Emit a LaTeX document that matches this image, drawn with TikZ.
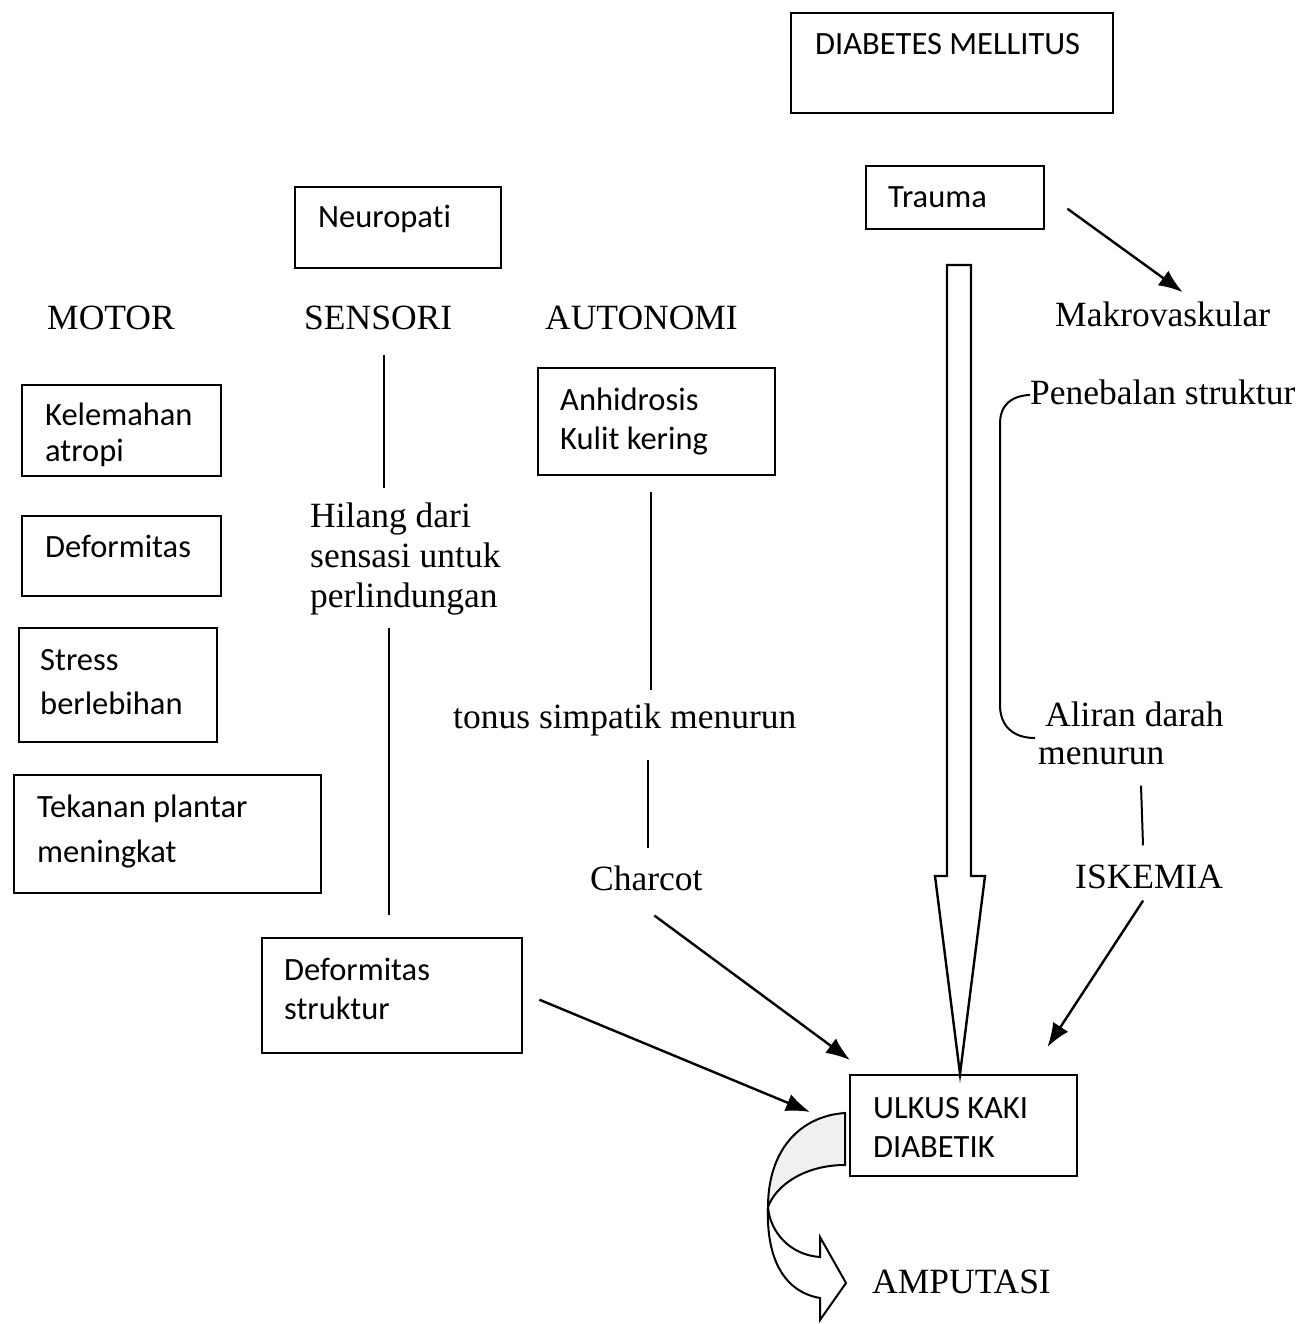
\documentclass[tikz,border=0pt]{standalone}
\usepackage{fontspec}
\setmainfont{Liberation Serif}
\newfontfamily\boxfont[Ligatures=NoCommon]{Carlito}
\usetikzlibrary{arrows.meta,calc}
\begin{document}
\begin{tikzpicture}[x=1pt,y=-1pt,
  box/.style={draw, line width=2.4pt, anchor=north west, inner sep=0pt},
  bt/.style={anchor=base west, inner sep=0pt, font=\boxfont\fontsize{32.5}{38}\selectfont},
  st/.style={anchor=base west, inner sep=0pt, font=\fontsize{35.5}{40}\selectfont},
  ln/.style={line width=2pt},
  arr/.style={line width=2.4pt, -{Latex[length=24pt,width=18pt]}},
  hollow/.style={line width=2.4pt, line join=miter},
]
\useasboundingbox (0,0) rectangle (1310,1324);
\fill[white] (0,0) rectangle (1310,1324);

% boxes
\node[box, minimum width=322pt, minimum height=100pt] (dm) at (790,12) {};
\node[bt] (dmt) at (815,55) {DIABETES MELLITUS};
\node[box, minimum width=178pt, minimum height=63pt] (trauma) at (865,165) {};
\node[bt] (traumat) at (888,208) {Trauma};
\node[box, minimum width=206pt, minimum height=81pt] (neuro) at (294,186) {};
\node[bt] (neurot) at (318,228) {Neuropati};

\node[box, minimum width=199pt, minimum height=91pt] (kel) at (21,384) {};
\node[bt] (kel1) at (45,425) {Kelemahan};
\node[bt] (kel2) at (45,461) {atropi};
\node[box, minimum width=199pt, minimum height=80pt] (def) at (21,515) {};
\node[bt] (deft) at (45,557) {Deformitas};
\node[box, minimum width=198pt, minimum height=114pt] (stress) at (18,627) {};
\node[bt] (stress1) at (40,670) {Stress};
\node[bt] (stress2) at (40,714) {berlebihan};
\node[box, minimum width=307pt, minimum height=118pt] (tek) at (13,774) {};
\node[bt] (tek1) at (37,817) {Tekanan plantar};
\node[bt] (tek2) at (37,862) {meningkat};

\node[box, minimum width=237pt, minimum height=107pt] (an) at (537,367) {};
\node[bt] (an1) at (560,410) {Anhidrosis};
\node[bt] (an2) at (560,449) {Kulit kering};

\node[box, minimum width=260pt, minimum height=115pt] (ds) at (261,937) {};
\node[bt] (ds1) at (284,980) {Deformitas};
\node[bt] (ds2) at (284,1019) {struktur};

% serif labels
\node[st] (motor) at (47,329) {MOTOR};
\node[st] (sensori) at (304,329) {SENSORI};
\node[st] (autonomi) at (545,329) {AUTONOMI};
\node[st] (makro) at (1055,326) {Makrovaskular};
\node[st] (pen) at (1030,404) {Penebalan struktur};
\node[st] (hil1) at (310,527) {Hilang dari};
\node[st] (hil2) at (310,567) {sensasi untuk};
\node[st] (hil3) at (310,607) {perlindungan};
\node[st] (tonus) at (453,728) {tonus simpatik menurun};
\node[st] (al1) at (1045,726) {Aliran darah};
\node[st] (al2) at (1038,764) {menurun};
\node[st] (charcot) at (590,890) {Charcot};
\node[st] (isk) at (1075,888) {ISKEMIA};
\node[st] (amp) at (872,1293) {AMPUTASI};

% vertical guide coordinates
\coordinate (sx) at (384,0);
\coordinate (hx) at (389,0);
\coordinate (ax) at (651,0);
\coordinate (cx) at (648,0);
\coordinate (ix) at (1142,0);

% plain connectors
\draw[ln] ($(sensori.south -| sx)+(0,25)$) -- ($(hil1.north -| sx)+(0,-14)$);
\draw[ln] ($(hil3.south -| hx)+(0,13)$) -- ($(ds.north -| hx)+(0,-22)$);
\draw[ln] ($(an.south -| ax)+(0,16)$) -- ($(tonus.north -| ax)+(0,-13)$);
\draw[ln] ($(tonus.south -| cx)+(0,24)$) -- ($(charcot.north -| cx)+(0,-17)$);
\draw[ln] ($(al2.south -| ix)+(-1,21)$) -- ($(isk.north -| ix)+(1,-19)$);

% bracket from Penebalan struktur to Aliran darah
\draw[ln] ($(pen.west)+(0,3)$) .. controls (1012,396) and (1000,404) .. (1000,424)
  -- (1000,705) .. controls (1000,725) and (1012,738) .. (1035,738);

% curved arrow to AMPUTASI
\filldraw[hollow, line width=2pt, fill=gray!12] (845,1113) .. controls (800,1116) and (768,1150) .. (768,1207)
  .. controls (776,1185) and (805,1165) .. (845,1165) -- cycle;
\filldraw[hollow, line width=2pt, fill=white] (768,1207) .. controls (770,1232) and (790,1255) .. (820,1257)
  -- (820,1237) -- (846,1283) -- (820,1320) -- (820,1298)
  .. controls (785,1292) and (766,1260) .. (768,1207) -- cycle;

\node[box, minimum width=227pt, minimum height=101pt, fill=white] (ulkus) at (849,1074) {};
\node[bt] (ulkus1) at (873,1118) {ULKUS KAKI};
\node[bt] (ulkus2) at (873,1157) {DIABETIK};

% big hollow arrow from Trauma down to the ulcer
\draw[hollow, fill=white] (947,265) -- (947,876) -- (935,876) -- (ulkus.north -| 960,0) -- (985,876)
  -- (971,876) -- (971,265) -- cycle;

% arrows
\draw[arr] ($(trauma.east)+(22,11)$) -- ($(makro.north)+(20,-9)$);
\draw[arr] ($(charcot.south)+(8,25)$) -- ($(ulkus.north west)+(1,-14)$);
\draw[arr] ($(isk.south)+(-6,12)$) -- ($(ulkus.north east)+(-31,-27)$);
\draw[arr] ($(ds.east)+(16,4)$) -- ($(ulkus.north west)+(-39,38)$);
\end{tikzpicture}
\end{document}
